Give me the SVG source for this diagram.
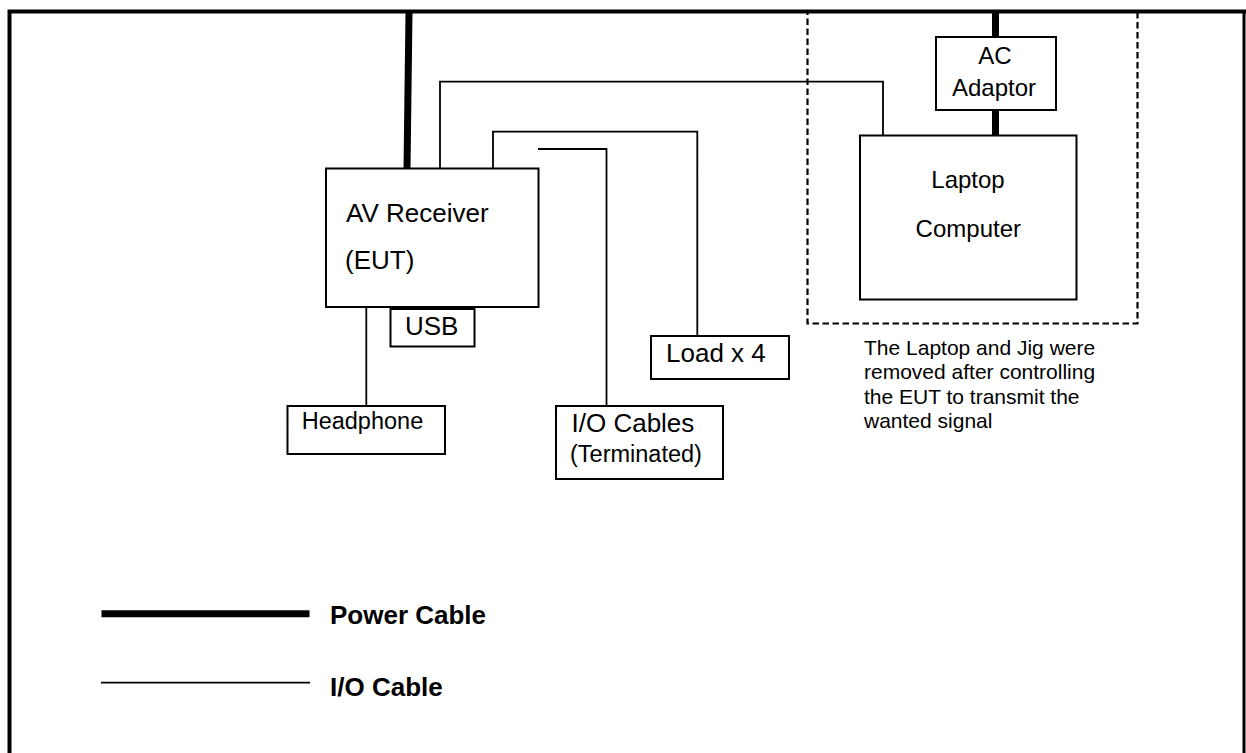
<svg xmlns="http://www.w3.org/2000/svg" width="1246" height="753" viewBox="0 0 1246 753">
<style>
text{font-family:"Liberation Sans",Arial,sans-serif;fill:#000}
.box{fill:#fff;stroke:#000;stroke-width:2}
.io{fill:none;stroke:#000;stroke-width:1.8}
.pwr{fill:none;stroke:#000;stroke-width:7}
.dash{fill:none;stroke:#000;stroke-width:2.2;stroke-dasharray:6.5 3.5}
.b{font-weight:bold}
</style>
<rect width="1246" height="753" fill="#fff"/>
<g id="frame">
<path d="M9.5 753 V11.5 H1246" fill="none" stroke="#000" stroke-width="4"/>
<path d="M1244 11 V753" fill="none" stroke="#000" stroke-width="3"/>
</g>
<g id="connectors">
<path class="pwr" d="M409 12 L407 168.5"/>
<path class="pwr" d="M995.5 12 V37 M995.5 110 V135.5"/>
<path class="io" d="M440 168.5 V81.7 H883 V135.5"/>
<path class="io" d="M493 168.5 V131.7 H697.3 V336"/>
<path class="io" d="M538 149 H606.5 V406"/>
<path class="io" d="M366.3 307.5 V406"/>
</g>
<g id="laptop-area">
<rect class="dash" x="807.5" y="12" width="330" height="311.5"/>
</g>
<g id="av-receiver">
<rect class="box" x="326" y="168.5" width="212.5" height="138.5"/>
<text x="346" y="221.5" font-size="26">AV Receiver</text>
<text x="345" y="269" font-size="26">(EUT)</text>
</g>
<g id="usb">
<rect class="box" x="390.5" y="309" width="84" height="37.5"/>
<text x="431.7" y="335" font-size="26" text-anchor="middle">USB</text>
</g>
<g id="headphone">
<rect class="box" x="287.5" y="406" width="157.5" height="48"/>
<text x="301.7" y="429.3" font-size="23.5">Headphone</text>
</g>
<g id="io-cables">
<rect class="box" x="556" y="406" width="167" height="73"/>
<text x="571.5" y="431.7" font-size="26">I/O Cables</text>
<text x="570" y="461.7" font-size="23.5">(Terminated)</text>
</g>
<g id="load">
<rect class="box" x="651" y="336" width="138" height="43"/>
<text x="666" y="361.7" font-size="26">Load x 4</text>
</g>
<g id="ac-adaptor">
<rect class="box" x="936" y="37" width="120" height="73"/>
<text x="995" y="64" font-size="24" text-anchor="middle">AC</text>
<text x="994" y="95.7" font-size="24" text-anchor="middle">Adaptor</text>
</g>
<g id="laptop">
<rect class="box" x="860" y="135.5" width="216.5" height="164"/>
<text x="968" y="188.3" font-size="24" text-anchor="middle">Laptop</text>
<text x="968.3" y="236.7" font-size="24" text-anchor="middle">Computer</text>
</g>
<g id="note">
<text x="864" y="355" font-size="21">The Laptop and Jig were</text>
<text x="864" y="379.3" font-size="21">removed after controlling</text>
<text x="864" y="403.5" font-size="21">the EUT to transmit the</text>
<text x="864" y="427.7" font-size="21">wanted signal</text>
</g>
<g id="legend">
<line x1="101.5" y1="613.7" x2="309.5" y2="613.7" stroke="#000" stroke-width="7"/>
<line x1="101" y1="682.7" x2="310" y2="682.7" stroke="#000" stroke-width="1.8"/>
<text class="b" x="330" y="624.3" font-size="26">Power Cable</text>
<text class="b" x="330" y="696" font-size="26">I/O Cable</text>
</g>
</svg>
